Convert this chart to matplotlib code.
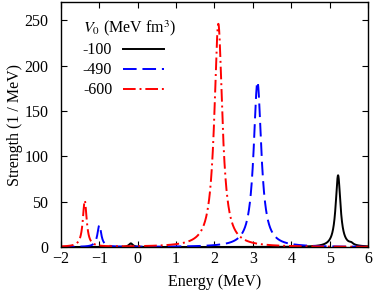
import matplotlib
matplotlib.use("Agg")
import matplotlib.pyplot as plt
import numpy as np

# Peak positions (MeV), peak heights (1/MeV) and widths (MeV)
V0_LABELS = ["-100", "-490", "-600"]
PEAK_E_100 = [-0.18, 5.22, 5.56]
PEAK_H_100 = [4.0, 79.0, 2.0]
PEAK_W_100 = [0.12, 0.15, 0.12]
PEAK_E_490 = [-1.0, 3.12]
PEAK_H_490 = [24.0, 182.0]
PEAK_W_490 = [0.12, 0.24]
PEAK_E_600 = [-1.38, 2.1]
PEAK_H_600 = [51.0, 246.0]
PEAK_W_600 = [0.12, 0.25]

COLORS = ["black", "blue", "red"]
STYLES = ["-", (0, (7, 3)), (0, (6.5, 2, 1, 2))]


def strength(energy, centers, heights, widths):
    s = np.zeros_like(energy)
    for c, h, w in zip(centers, heights, widths):
        s += h / (1.0 + (2.0 * (energy - c) / w) ** 2)
    return s


def main():
    plt.rcParams["font.family"] = ["Liberation Serif", "DejaVu Serif"]
    plt.rcParams["mathtext.fontset"] = "stix"
    plt.rcParams["font.size"] = 11.5

    fig = plt.figure(figsize=(3.74, 2.93), dpi=100)
    ax = fig.add_axes([0.163, 0.157, 0.821, 0.836])

    energy = np.linspace(-2, 6, 4001)
    peaks = [(PEAK_E_100, PEAK_H_100, PEAK_W_100),
             (PEAK_E_490, PEAK_H_490, PEAK_W_490),
             (PEAK_E_600, PEAK_H_600, PEAK_W_600)]
    for lab, (c, h, w), col, ls in zip(V0_LABELS, peaks, COLORS, STYLES):
        ax.plot(energy, strength(energy, c, h, w), color=col, ls=ls,
                lw=1.4, label=lab)

    ax.set_xlim(-2, 6)
    ax.set_ylim(0, 270)
    ax.set_xticks(np.arange(-2, 7, 1))
    ax.set_yticks(np.arange(0, 251, 50))
    ax.tick_params(direction="in", top=True, right=True, length=4,
                   width=0.8)
    ax.tick_params(axis="x", pad=3)
    ax.tick_params(axis="y", pad=9)
    for sp in ax.spines.values():
        sp.set_linewidth(1.0)
    ax.set_xlabel("Energy (MeV)", labelpad=5)
    ax.set_ylabel("Strength (1 / MeV)", labelpad=1)

    leg = ax.legend(title=r"$V_0$ (MeV fm$^3$)", loc="upper left",
                    bbox_to_anchor=(0.045, 0.965), frameon=False,
                    markerfirst=False, handlelength=2.6, handletextpad=0.65,
                    labelspacing=0.25, borderaxespad=0.1)
    leg._legend_box.align = "left"
    leg.get_title().set_fontsize(11.5)

    fig.savefig("out.png", dpi=100)


if __name__ == "__main__":
    main()
